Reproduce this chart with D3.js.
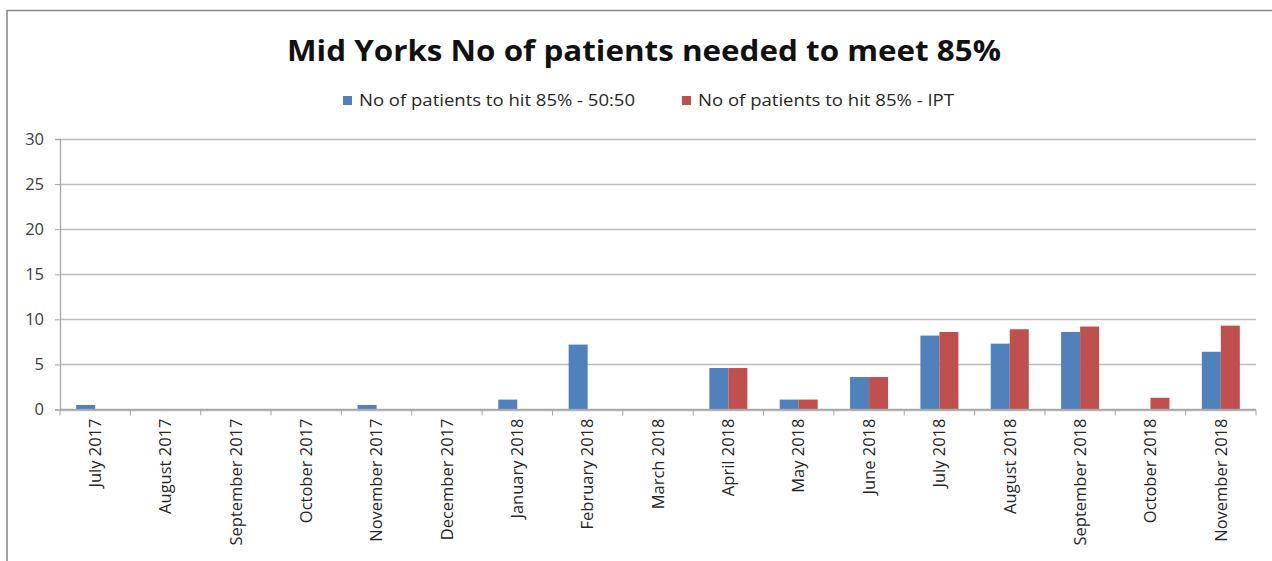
<!DOCTYPE html>
<html>
<head>
<meta charset="utf-8">
<script src="https://cdn.jsdelivr.net/npm/d3@7"></script>
<style>
  body { margin: 0; background: #fff; }
  svg text { font-family: "Open Sans", "DejaVu Sans", sans-serif; }
</style>
</head>
<body>
<div id="chart"></div>
<script>
// data
const months = ["July 2017", "August 2017", "September 2017", "October 2017", "November 2017",
  "December 2017", "January 2018", "February 2018", "March 2018", "April 2018", "May 2018",
  "June 2018", "July 2018", "August 2018", "September 2018", "October 2018", "November 2018"];
const fiftyFifty = [0.5, 0, 0, 0, 0.5, 0, 1.1, 7.2, 0, 4.6, 1.1, 3.6, 8.2, 7.3, 8.6, 0, 6.4];
const ipt = [0, 0, 0, 0, 0, 0, 0, 0, 0, 4.6, 1.1, 3.6, 8.6, 8.9, 9.2, 1.3, 9.3];
const seriesNames = ["No of patients to hit 85% - 50:50", "No of patients to hit 85% - IPT"];
const yTicks = [0, 5, 10, 15, 20, 25, 30];
const colors = ["#4F81BD", "#C0504D"];

const width = 1272, height = 561;
const plotLeft = 60, plotRight = 1256, plotTop = 139, plotBottom = 409.5;

const svg = d3.select("#chart")
    .append("svg")
    .attr("width", width)
    .attr("height", height);

// chart frame
svg.append("rect")
    .attr("x", 7)
    .attr("y", 10.5)
    .attr("width", 1275)
    .attr("height", 560)
    .style("fill", "none")
    .style("stroke", "#868686")
    .style("stroke-width", 1.5);

const x = d3.scaleBand()
    .domain(months)
    .range([plotLeft, plotRight])
    .paddingInner(0.46)
    .paddingOuter(0.23);

const xs = d3.scaleBand()
    .domain([0, 1])
    .range([0, x.bandwidth()]);

const y = d3.scaleLinear()
    .domain([0, 30])
    .range([plotBottom, plotTop]);

// gridlines
svg.append("g")
    .selectAll("line")
    .data(yTicks)
    .enter()
    .append("line")
    .attr("x1", plotLeft)
    .attr("x2", plotRight)
    .attr("y1", d => Math.round(y(d)) + 0.5)
    .attr("y2", d => Math.round(y(d)) + 0.5)
    .style("stroke", "#bcbcbc")
    .style("stroke-width", 1.3);

// y axis
const yAxis = svg.append("g")
    .attr("transform", `translate(${plotLeft},0)`)
    .call(d3.axisLeft(y).tickValues(yTicks).tickSize(5).tickPadding(11));
yAxis.select(".domain").style("stroke", "#a6a6a6").style("stroke-width", 1.3);
yAxis.selectAll(".tick line").style("stroke", "#a6a6a6");
yAxis.selectAll("text")
    .style("font-size", "16.5px")
    .style("fill", "#404040")
    .style("font-family", "Open Sans");

// bars
const groups = svg.append("g")
    .selectAll("g")
    .data(months.map((m, i) => ({ month: m, values: [fiftyFifty[i], ipt[i]] })))
    .enter()
    .append("g")
    .attr("transform", d => `translate(${x(d.month)},0)`);

groups.selectAll("rect")
    .data(d => d.values.map((v, k) => ({ k, v })))
    .enter()
    .append("rect")
    .attr("x", d => xs(d.k))
    .attr("width", xs.bandwidth())
    .attr("y", d => y(d.v))
    .attr("height", d => y(0) - y(d.v))
    .style("fill", d => colors[d.k]);

// x axis, ticks on category boundaries
const xAxis = svg.append("g")
    .attr("transform", `translate(0,${plotBottom})`)
    .call(d3.axisBottom(x).tickSize(0).tickPadding(0));
xAxis.select(".domain").remove();
xAxis.selectAll(".tick text")
    .attr("transform", "rotate(-90)")
    .attr("x", -9)
    .attr("y", 0)
    .attr("dy", "0.35em")
    .style("text-anchor", "end")
    .style("font-size", "16.5px")
    .style("fill", "#262626");

svg.append("line")
    .attr("x1", plotLeft)
    .attr("x2", plotRight)
    .attr("y1", plotBottom)
    .attr("y2", plotBottom)
    .style("stroke", "#a6a6a6")
    .style("stroke-width", 1.3);

svg.append("g")
    .selectAll("line")
    .data(d3.range(months.length + 1))
    .enter()
    .append("line")
    .attr("x1", i => plotLeft + i * x.step())
    .attr("x2", i => plotLeft + i * x.step())
    .attr("y1", plotBottom)
    .attr("y2", plotBottom + 6)
    .style("stroke", "#a6a6a6");

// title
svg.append("text")
    .attr("x", 644)
    .attr("y", 61)
    .style("text-anchor", "middle")
    .style("font-size", "28px")
    .style("font-weight", "bold")
    .style("fill", "#111")
    .attr("textLength", 714)
    .attr("lengthAdjust", "spacingAndGlyphs")
    .text("Mid Yorks No of patients needed to meet 85%");

// legend
const legendX = [343, 682];
const legendLen = [276, 256];
svg.selectAll(".legend-box")
    .data(seriesNames)
    .enter()
    .append("rect")
    .attr("class", "legend-box")
    .attr("x", (d, i) => legendX[i])
    .attr("y", 96)
    .attr("width", 9)
    .attr("height", 9)
    .style("fill", (d, i) => colors[i]);

svg.selectAll(".legend-label")
    .data(seriesNames)
    .enter()
    .append("text")
    .attr("class", "legend-label")
    .attr("x", (d, i) => legendX[i] + 16)
    .attr("y", 106)
    .attr("textLength", (d, i) => legendLen[i])
    .attr("lengthAdjust", "spacingAndGlyphs")
    .style("font-size", "16px")
    .style("fill", "#262626")
    .text(d => d);
</script>
</body>
</html>
